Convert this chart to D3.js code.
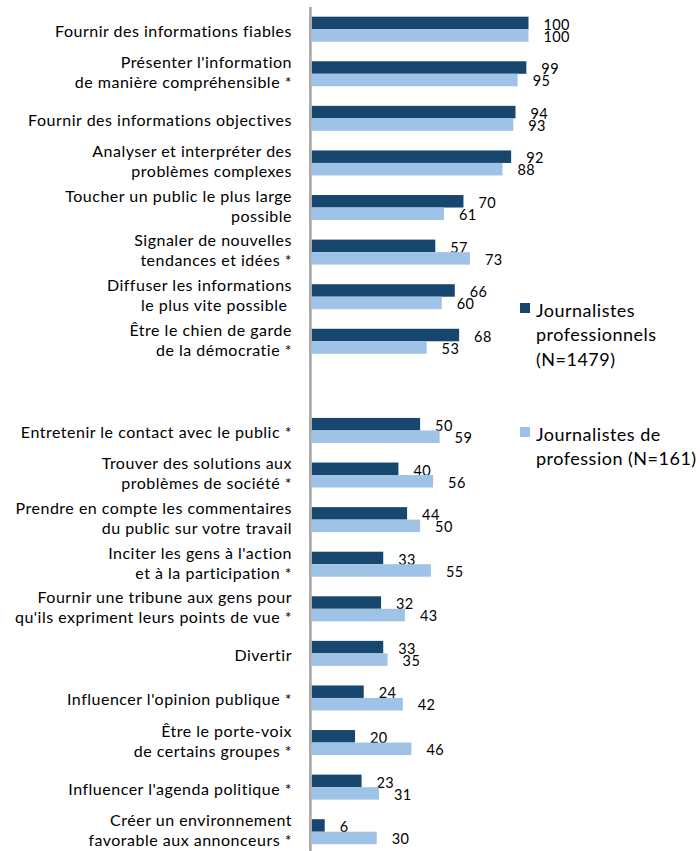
<!DOCTYPE html>
<html>
<head>
<meta charset="utf-8">
<script src="https://cdn.jsdelivr.net/npm/d3@7"></script>
<style>
  html, body { margin: 0; padding: 0; background: #fff; }
  svg { display: block; font-family: Lato, "Open Sans", sans-serif; }
</style>
</head>
<body>
<svg id="chart" width="700" height="851"></svg>
<script>
// Role items, each label split into display lines (null = spacer between the two blocks)
const categories = [
  ["Fournir des informations fiables"],
  ["Présenter l'information", "de manière compréhensible *"],
  ["Fournir des informations objectives"],
  ["Analyser et interpréter des", "problèmes complexes"],
  ["Toucher un public le plus large", "possible"],
  ["Signaler de nouvelles", "tendances et idées *"],
  ["Diffuser les informations", "le plus vite possible\u00a0"],
  ["Être le chien de garde", "de la démocratie *"],
  null,
  ["Entretenir le contact avec le public *"],
  ["Trouver des solutions aux", "problèmes de société *"],
  ["Prendre en compte les commentaires", "du public sur votre travail"],
  ["Inciter les gens à l'action", "et à la participation *"],
  ["Fournir une tribune aux gens pour", "qu'ils expriment leurs points de vue *"],
  ["Divertir"],
  ["Influencer l'opinion publique *"],
  ["Être le porte-voix", "de certains groupes *"],
  ["Influencer l'agenda politique *"],
  ["Créer un environnement", "favorable aux annonceurs *"]
];

const professionnels = [100, 99, 94, 92, 70, 57, 66, 68, null, 50, 40, 44, 33, 32, 33, 24, 20, 23, 6];
const deProfession   = [100, 95, 93, 88, 61, 73, 60, 53, null, 59, 56, 50, 55, 43, 35, 42, 46, 31, 30];

const seriesNames = [
  ["Journalistes", "professionnels", "(N=1479)"],
  ["Journalistes de", "profession (N=161)"]
];
const colors = ["#17476f", "#9fc3e7"];

const svg = d3.select("#chart");

const slots = d3.range(categories.length);
const y = d3.scaleBand().domain(slots).range([6.9, 854]).paddingInner(0).paddingOuter(0);
const x = d3.scaleLinear().domain([0, 100]).range([311.7, 528.5]);
const barH = 12.5;
const mid = i => y(i) + y.bandwidth() / 2;

const rows = slots.filter(i => categories[i] !== null);

// bars and their value labels
const g = svg.append("g");
const series = [professionnels, deProfession];
series.forEach((vals, s) => {
  g.selectAll(".bar" + s)
    .data(rows)
    .join("rect")
    .attr("x", x(0))
    .attr("y", i => mid(i) - barH + s * barH)
    .attr("width", i => x(vals[i]) - x(0))
    .attr("height", barH)
    .attr("fill", colors[s]);

  g.selectAll(".val" + s)
    .data(rows)
    .join("text")
    .attr("x", i => x(vals[i]) + 15)
    .attr("y", i => mid(i) + 0.5 + s * 12)
    .attr("font-size", 14.5)
    .attr("letter-spacing", 0.4)
    .attr("fill", "#000")
    .text(i => vals[i]);
});

// vertical axis line
svg.append("line")
  .attr("x1", 310.4).attr("x2", 310.4)
  .attr("y1", 7).attr("y2", 851)
  .attr("stroke", "#a6a6a6").attr("stroke-width", 2.6);

// category labels (alphabetic baselines)
const lineH = 20;
rows.forEach(i => {
  const lines = categories[i];
  const c = mid(i);
  const t = svg.append("text")
    .attr("text-anchor", "end")
    .attr("font-size", 16)
    .attr("letter-spacing", 0.5)
    .attr("fill", "#000")
    .style("white-space", "pre");
  lines.forEach((ln, k) => {
    const base = lines.length === 1 ? c + 7.5 : c - 5.7 + k * lineH;
    t.append("tspan")
      .attr("x", 292)
      .attr("y", base)
      .text(ln);
  });
});

// legend
const legendTop = [312, 436];
seriesNames.forEach((lines, s) => {
  svg.append("rect")
    .attr("x", 520).attr("y", legendTop[s] - 9)
    .attr("width", 10).attr("height", 10)
    .attr("fill", colors[s]);
  const t = svg.append("text")
    .attr("font-size", 18)
    .attr("letter-spacing", 0.5)
    .attr("fill", "#000");
  lines.forEach((ln, k) => {
    t.append("tspan")
      .attr("x", 536)
      .attr("y", legendTop[s] + k * 24.5)
      .attr("dominant-baseline", "middle")
      .text(ln);
  });
});
</script>
</body>
</html>
